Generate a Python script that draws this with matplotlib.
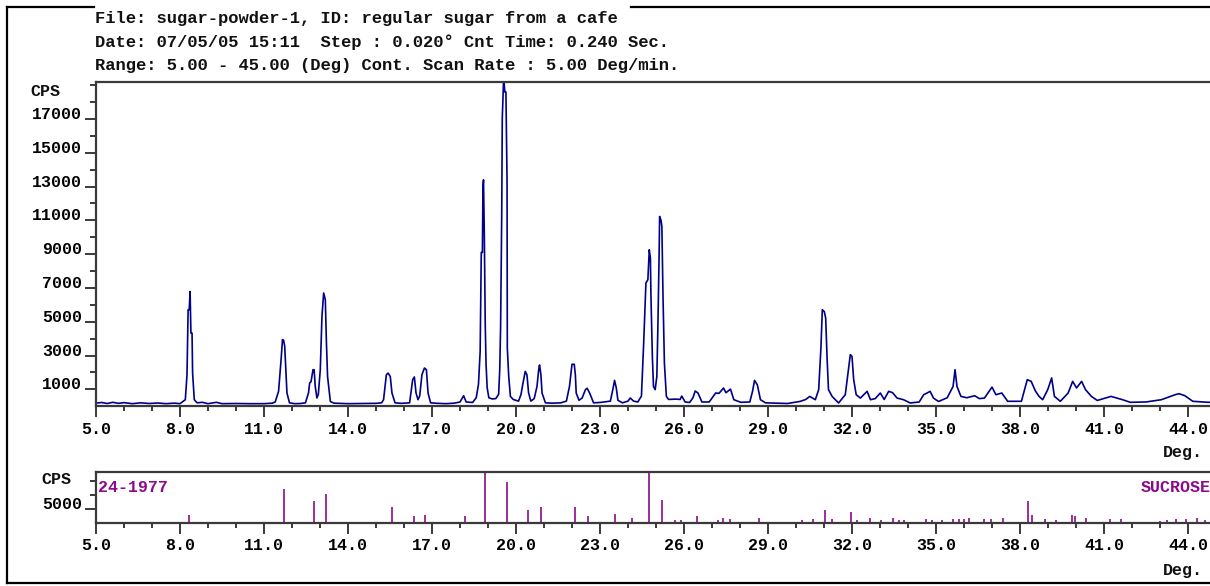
import matplotlib.pyplot as plt
from matplotlib.lines import Line2D
from matplotlib.ticker import FixedLocator, FormatStrFormatter

# measured scan: 2-theta (deg) and counts per second
two_theta = [5.0, 5.2, 5.4, 5.6, 5.8, 6.0, 6.3, 6.6, 6.9, 7.2, 7.5, 7.8,
             8.0, 8.19, 8.25, 8.29, 8.33, 8.36, 8.39, 8.43, 8.45, 8.51, 8.61,
             8.8, 9.0, 9.3, 9.5, 10.0, 10.5, 11.0, 11.3, 11.4, 11.52, 11.61,
             11.66, 11.70, 11.74, 11.76, 11.82, 11.91, 12.1, 12.3, 12.48,
             12.59, 12.63, 12.68, 12.75, 12.79, 12.83, 12.89, 12.94, 13.01,
             13.07, 13.13, 13.19, 13.23, 13.27, 13.37, 13.5, 14.0, 14.5, 15.0,
             15.2, 15.27, 15.37, 15.43, 15.51, 15.57, 15.68, 15.9, 16.2, 16.31,
             16.37, 16.43, 16.50, 16.56, 16.64, 16.73, 16.80, 16.86, 16.95,
             17.2, 17.5, 17.8, 18.0, 18.13, 18.22, 18.45, 18.58, 18.66, 18.72,
             18.76, 18.80, 18.82, 18.84, 18.87, 18.90, 18.93, 18.97, 19.03,
             19.15, 19.28, 19.38, 19.42, 19.45, 19.49, 19.51, 19.56, 19.60,
             19.64, 19.68, 19.69, 19.74, 19.80, 19.90, 20.09, 20.18, 20.25,
             20.33, 20.39, 20.45, 20.53, 20.65, 20.75, 20.81, 20.84, 20.89,
             20.93, 21.05, 21.3, 21.6, 21.8, 21.91, 22.00, 22.08, 22.12, 22.15,
             22.25, 22.36, 22.48, 22.54, 22.63, 22.77, 23.0, 23.37, 23.46,
             23.52, 23.58, 23.64, 23.8, 24.0, 24.08, 24.2, 24.35, 24.48, 24.56,
             24.64, 24.71, 24.76, 24.80, 24.82, 24.87, 24.91, 24.97, 25.03,
             25.07, 25.11, 25.13, 25.18, 25.21, 25.25, 25.30, 25.37, 25.45,
             25.7, 25.86, 25.92, 26.04, 26.2, 26.32, 26.40, 26.50, 26.64, 26.9,
             27.05, 27.13, 27.25, 27.41, 27.50, 27.66, 27.78, 28.03, 28.35,
             28.45, 28.52, 28.62, 28.73, 28.91, 29.3, 29.7, 30.15, 30.35, 30.49,
             30.62, 30.69, 30.81, 30.89, 30.94, 31.01, 31.06, 31.11, 31.16,
             31.29, 31.52, 31.76, 31.88, 31.94, 32.00, 32.06, 32.15, 32.30,
             32.54, 32.66, 32.83, 33.01, 33.15, 33.31, 33.45, 33.61, 33.84,
             34.08, 34.4, 34.56, 34.68, 34.79, 34.91, 35.09, 35.40, 35.61,
             35.68, 35.75, 35.89, 36.1, 36.38, 36.55, 36.73, 37.00, 37.14,
             37.35, 37.56, 38.05, 38.15, 38.26, 38.40, 38.55, 38.68, 38.81,
             38.99, 39.13, 39.23, 39.44, 39.72, 39.88, 40.02, 40.20, 40.34,
             40.55, 40.76, 41.25, 41.66, 41.94, 42.5, 43.05, 43.54, 43.68,
             43.89, 44.17, 44.72, 45.0]
cps = [180, 220, 160, 230, 170, 210, 150, 200, 160, 190, 150, 180,
       150, 385, 1860, 5710, 5710, 6790, 4330, 4330, 1960, 385, 200,
       230, 150, 230, 150, 160, 150, 150, 180, 250, 880, 2750,
       3940, 3900, 3540, 2850, 780, 200, 150, 160, 200,
       790, 1370, 1450, 2160, 2160, 1170, 485, 700, 2160,
       5310, 6700, 6300, 3740, 1760, 280, 180, 150, 160, 170,
       200, 385, 1860, 1960, 1760, 780, 200, 170, 200, 1570,
       1730, 780, 385, 600, 1860, 2260, 2160, 780, 200,
       170, 150, 180, 250, 620, 250, 220, 500, 1300, 3240,
       9100, 9100, 13000, 13400, 10000, 5000, 2500, 1100, 500,
       430, 450, 700, 2200, 4700, 11300, 17050, 19500, 18600,
       18600, 13400, 3440, 1760, 580, 400, 300, 700, 1370,
       2060, 1860, 780, 300, 450, 1170, 2160, 2440, 1860,
       780, 200, 180, 200, 300, 1170, 2480, 2480, 1860, 780,
       350, 480, 980, 1060, 780, 200, 220, 300, 1000,
       1530, 1100, 350, 200, 300, 485, 300, 250, 600, 3740,
       7290, 7490, 9260, 8770, 6500, 2950, 1170, 980, 1760,
       4920, 8860, 11230, 11000, 10640, 6500, 2560, 580, 400,
       420, 400, 600, 250, 220, 500, 900, 780, 250, 250,
       600, 780, 760, 1075, 800, 1010, 385, 230, 250,
       900, 1530, 1260, 385, 200, 180, 160, 285, 400, 580,
       450, 385, 980, 3440, 5710, 5600, 5220, 2850, 980,
       580, 190, 680, 2260, 3050, 2950, 1570, 680, 480,
       880, 385, 450, 780, 400, 880, 800, 480, 385,
       190, 250, 680, 780, 880, 480, 280, 500, 1170,
       2160, 1170, 580, 500, 620, 450, 480, 1130, 680,
       780, 290, 290, 900, 1570, 1470, 900, 580, 385,
       980, 1670, 580, 290, 780, 1470, 1080, 1470, 980,
       580, 340, 580, 385, 230, 250, 385, 680, 740,
       620, 290, 230, 250]

# reference pattern 24-1977 (sucrose): line positions and intensities
ref_pos = [8.32, 11.72, 12.77, 13.20, 15.57, 16.37, 16.74, 18.18, 18.89,
           19.69, 20.44, 20.91, 22.10, 22.58, 23.55, 24.14, 24.76, 25.21,
           25.68, 25.89, 26.48, 27.20, 27.38, 27.65, 28.69, 30.23, 30.60,
           31.03, 31.29, 31.98, 32.18, 32.63, 33.05, 33.47, 33.67, 33.84,
           34.64, 34.84, 35.23, 35.60, 35.81, 35.99, 36.19, 36.73, 36.98,
           37.39, 38.27, 38.44, 38.91, 39.29, 39.87, 39.98, 40.35, 41.21,
           41.59, 43.01, 43.25, 43.56, 43.93, 44.31, 44.62]
ref_int = [2920, 12170, 7790, 10470, 5600, 2430, 2920, 2310, 18500,
           14850, 4500, 5600, 5600, 2310, 3290, 1830, 18500, 8400,
           850, 1100, 2310, 1100, 1700, 1200, 1830, 850, 1200,
           4500, 1200, 4000, 850, 1830, 850, 1830, 850, 850,
           1200, 850, 850, 1200, 1200, 1460, 1830, 1200, 1200,
           1830, 7790, 2920, 1200, 850, 2800, 2310, 1830, 1200,
           1200, 610, 850, 1200, 1200, 1830, 850]

x_major = [5, 8, 11, 14, 17, 20, 23, 26, 29, 32, 35, 38, 41, 44]
x_minor = list(range(5, 46))
y_major = [1000, 3000, 5000, 7000, 9000, 11000, 13000, 15000, 17000]
y_minor = [2000, 4000, 6000, 8000, 10000, 12000, 14000, 16000, 18000, 19000]

header = ["File: sugar-powder-1, ID: regular sugar from a cafe",
          "Date: 07/05/05 15:11  Step : 0.020\u00b0 Cnt Time: 0.240 Sec.",
          "Range: 5.00 - 45.00 (Deg) Cont. Scan Rate : 5.00 Deg/min."]

W, H = 1210, 586
mono = "Liberation Mono"
axcol = "#3a3a3a"
navy = "#000088"
purple = "#8b0a8b"

fig = plt.figure(figsize=(W / 100, H / 100), dpi=100)


def px(x0, y0, x1, y1):
    # pixel box (top-left origin) -> figure fraction rect
    return [x0 / W, 1 - y1 / H, (x1 - x0) / W, (y1 - y0) / H]


def style_axes(ax):
    for s in ("top", "left", "bottom"):
        ax.spines[s].set_color(axcol)
        ax.spines[s].set_linewidth(1.6)
    ax.spines["right"].set_visible(False)
    ax.set_xlim(5, 45)
    ax.xaxis.set_major_locator(FixedLocator(x_major))
    ax.xaxis.set_minor_locator(FixedLocator(x_minor))
    ax.xaxis.set_major_formatter(FormatStrFormatter("%.1f"))
    ax.tick_params(axis="x", which="major", direction="out", length=7.7,
                   width=1.4, color=axcol, pad=3.5)
    ax.tick_params(axis="x", which="minor", direction="out", length=3.6,
                   width=1.4, color=axcol)
    ax.tick_params(axis="y", which="major", direction="out", length=8,
                   width=1.4, color=axcol, pad=2)
    ax.tick_params(axis="y", which="minor", direction="out", length=4.3,
                   width=1.4, color=axcol)
    for t in ax.get_xticklabels() + ax.get_yticklabels():
        t.set_family(mono)
        t.set_weight("bold")
        t.set_fontsize(12)


# main diffractogram
ax = fig.add_axes(px(96, 82.5, 1216, 406.2))
ax.plot(two_theta, cps, color=navy, lw=1.2)
ax.set_ylim(0, 19160)
ax.yaxis.set_major_locator(FixedLocator(y_major))
ax.yaxis.set_minor_locator(FixedLocator(y_minor))
style_axes(ax)
plt.setp(ax.get_yticklabels(), va="baseline")

# reference stick pattern
axr = fig.add_axes(px(96, 471.7, 1216, 522.7))
axr.vlines(ref_pos, 0, ref_int, color=purple, lw=1.2)
axr.set_ylim(0, 18500)
axr.yaxis.set_major_locator(FixedLocator([5000]))
axr.yaxis.set_minor_locator(FixedLocator([10000, 15000]))
axr.yaxis.set_major_formatter(FormatStrFormatter("%d"))
style_axes(axr)
plt.setp(axr.get_yticklabels(), va="baseline")
axr.text(0.002, 0.70, "24-1977", transform=axr.transAxes, color=purple,
         family=mono, weight="bold", fontsize=12, va="center", ha="left")
axr.text(42.3, 0.70, "SUCROSE", transform=axr.get_xaxis_transform(),
         color=purple, family=mono, weight="bold", fontsize=12,
         va="center", ha="left")

tkw = dict(family=mono, weight="bold", fontsize=12, color="#111111")
fig.text(30 / W, 1 - 84 / H, "CPS", va="top", ha="left", **tkw)
fig.text(41 / W, 1 - 479.5 / H, "CPS", va="center", ha="left", **tkw)
fig.text(1203 / W, 1 - 453 / H, "Deg.", va="center", ha="right", **tkw)
fig.text(1203 / W, 1 - 570.7 / H, "Deg.", va="center", ha="right", **tkw)

for i, line in enumerate(header):
    fig.text(95 / W, 1 - (18.5 + 23.5 * i) / H, line, va="center", ha="left",
             family=mono, weight="bold", fontsize=12.3, color="#111111")

# outer frame, top edge broken by the header
frame = [((7, 7), (7, 583)), ((7, 1210), (583, 583)),
         ((7, 94), (7, 7)), ((631, 1210), (7, 7))]
for xs, ys in frame:
    fig.add_artist(Line2D([x / W for x in xs], [1 - y / H for y in ys],
                          color="black", lw=1.6))

fig.savefig("out.png", dpi=100)
